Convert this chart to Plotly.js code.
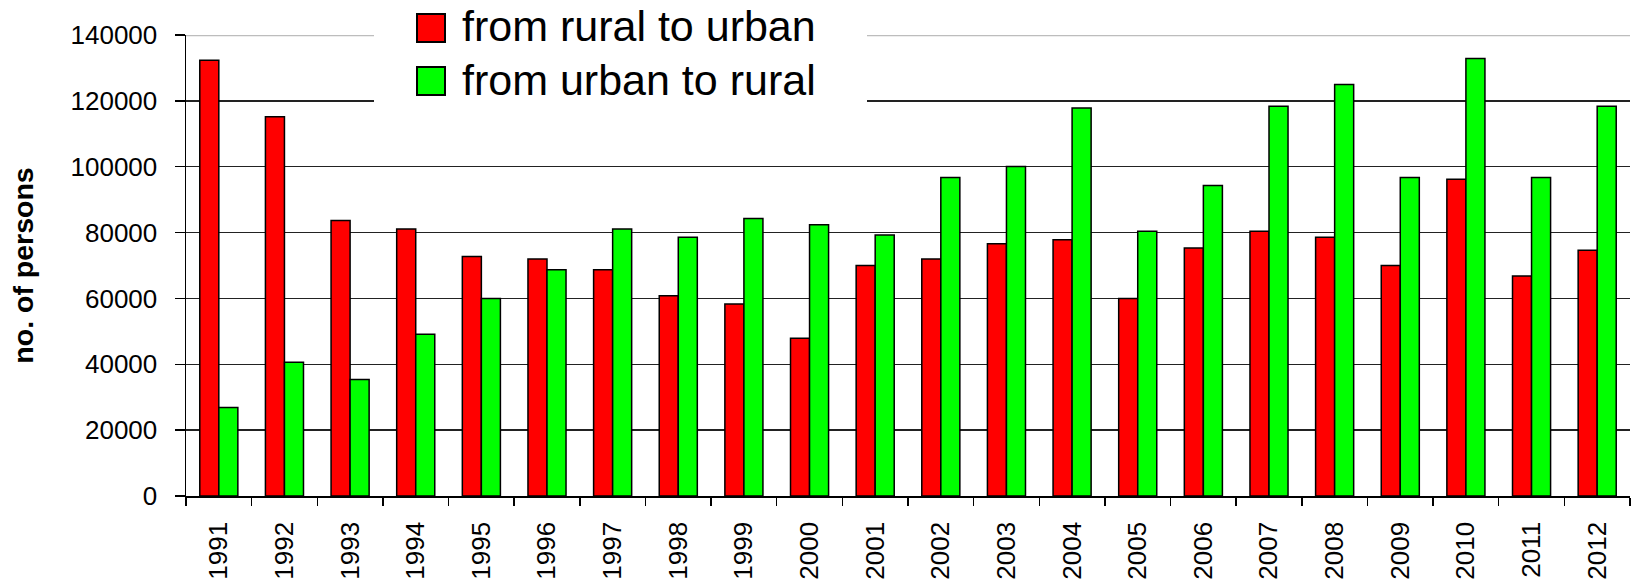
<!DOCTYPE html>
<html>
<head>
<meta charset="utf-8">
<script src="https://cdn.plot.ly/plotly-3.0.1.min.js"></script>
<style>html,body{margin:0;padding:0;background:#fff;}#chart{width:1642px;height:584px;}</style>
</head>
<body>
<div id="chart"></div>
<script>
const years = ['1991','1992','1993','1994','1995','1996','1997','1998','1999','2000','2001','2002','2003','2004','2005','2006','2007','2008','2009','2010','2011','2012'];
const ruralToUrban = [132300,115200,83700,81100,72700,72000,68700,60800,58300,47900,70000,72000,76600,77800,60000,75300,80400,78600,70000,96200,66800,74600];
const urbanToRural = [26900,40600,35400,49100,60000,68700,81100,78600,84300,82400,79300,96700,100100,117800,80400,94300,118400,125000,96700,132900,96700,118400];
const seriesNames = ['from rural to urban','from urban to rural'];
const tickVals = [0,20000,40000,60000,80000,100000,120000,140000];

const FONT = 'Liberation Sans, Arial, sans-serif';
// plot area in pixels (for paper-coord legend placement)
const L = 186, R = 1630, T = 35, B = 496;
const px = x => (x - L) / (R - L);
const py = y => (B - y) / (B - T);

const traces = [
  {type:'bar', x: years, y: ruralToUrban, name: seriesNames[0],
   marker:{color:'#FF0000', line:{color:'#000', width:1.5}}},
  {type:'bar', x: years, y: urbanToRural, name: seriesNames[1],
   marker:{color:'#00FF00', line:{color:'#000', width:1.5}}}
];

const layout = {
  width: 1642, height: 584,
  margin: {l: L, r: 1642 - R, t: T, b: 584 - B},
  paper_bgcolor: '#fff', plot_bgcolor: '#fff',
  showlegend: false,
  barmode: 'group', bargap: 0.42, bargroupgap: 0,
  font: {family: FONT, color: '#000', size: 26},
  xaxis: {
    type: 'category', tickangle: -90, tickson: 'boundaries',
    ticks: 'outside', ticklen: 8, tickwidth: 1.5, tickcolor: '#000',
    ticklabelstandoff: 14,
    showline: true, linecolor: '#000', linewidth: 1.5,
    showgrid: false, zeroline: false,
    tickfont: {family: FONT, size: 26, color: '#000'}
  },
  yaxis: {
    range: [0, 140000], tickvals: tickVals, ticktext: tickVals.map(String),
    ticks: 'outside', ticklen: 10, tickwidth: 1.5, tickcolor: '#000',
    ticklabelstandoff: 12,
    showline: true, linecolor: '#000', linewidth: 1.5,
    showgrid: true, gridcolor: '#222', gridwidth: 1.5, zeroline: false,
    tickfont: {family: FONT, size: 26, color: '#000'},
    title: {text: '<b>no. of persons</b>', font: {family: FONT, size: 28.5, color: '#000'}, standoff: 28}
  },
  shapes: [
    {type:'line', xref:'paper', yref:'y', x0:0, x1:1, y0:140000, y1:140000,
     line:{color:'#bdbdbd', width:2.5}, layer:'above'},
    {type:'rect', xref:'paper', yref:'paper', x0:px(374), x1:px(867), y0:py(108), y1:py(-2),
     fillcolor:'#fff', line:{width:0}, layer:'above'},
    {type:'rect', xref:'paper', yref:'paper', x0:px(417), x1:px(445), y0:py(42), y1:py(14),
     fillcolor:'#FF0000', line:{color:'#000', width:2}, layer:'above'},
    {type:'rect', xref:'paper', yref:'paper', x0:px(417), x1:px(445), y0:py(95), y1:py(67),
     fillcolor:'#00FF00', line:{color:'#000', width:2}, layer:'above'}
  ],
  annotations: [
    {xref:'paper', yref:'paper', x:px(460), y:py(26), xanchor:'left', yanchor:'middle',
     text: seriesNames[0], showarrow:false, font:{family: FONT, size: 43, color:'#000'}},
    {xref:'paper', yref:'paper', x:px(460), y:py(80), xanchor:'left', yanchor:'middle',
     text: seriesNames[1], showarrow:false, font:{family: FONT, size: 43, color:'#000'}}
  ]
};

Plotly.newPlot('chart', traces, layout, {staticPlot: true, displayModeBar: false});
</script>
</body>
</html>
